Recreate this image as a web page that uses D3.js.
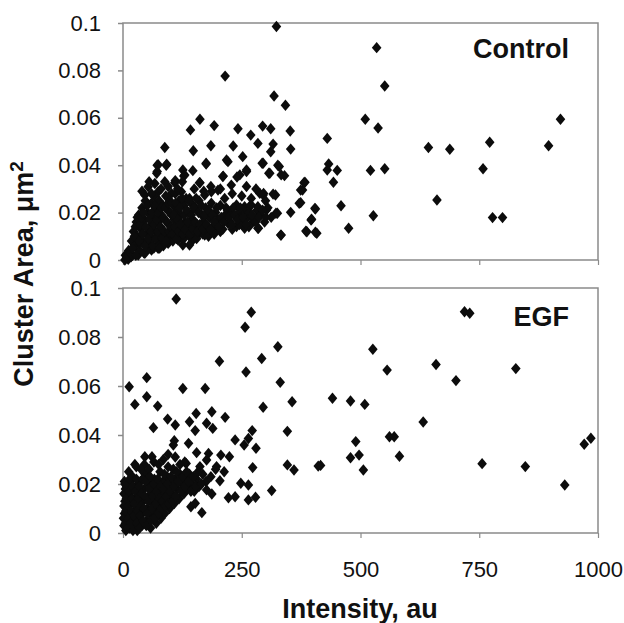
<!DOCTYPE html>
<html>
<head>
<meta charset="utf-8">
<script src="https://cdn.jsdelivr.net/npm/d3@7"></script>
<style>
    body { margin: 0; background: #fff; }
    text { font-family: "Liberation Sans", Arial, sans-serif; fill: #111; }
</style>
</head>
<body>
<div id="chart"></div>
<script>
// values: [intensity (au), cluster area (um2)]
const controlPoints = [
    [534, 0.0896], [551, 0.0734], [510, 0.0594], [537, 0.0557], [430, 0.0513], [643, 0.0475],
    [688, 0.0467], [772, 0.0497], [896, 0.0482], [921, 0.0594], [758, 0.0385], [433, 0.0405],
    [430, 0.038], [451, 0.0378], [521, 0.0378], [551, 0.0385], [443, 0.0328], [383, 0.0328],
    [378, 0.0295], [374, 0.0242], [405, 0.0215], [459, 0.0229], [397, 0.0172], [385, 0.0122],
    [408, 0.0113], [475, 0.0134], [527, 0.0187], [661, 0.0253], [778, 0.0179], [799, 0.0179],
    [323, 0.0985], [215, 0.0776], [318, 0.0692], [342, 0.0653], [162, 0.0594], [142, 0.0549],
    [192, 0.0567], [242, 0.0554], [269, 0.0527], [294, 0.0565], [311, 0.0554], [352, 0.0544],
    [88, 0.0475], [148, 0.0461], [185, 0.0482], [232, 0.0481], [284, 0.0492], [316, 0.0489],
    [353, 0.0468], [218, 0.0422], [252, 0.0436], [293, 0.0408], [311, 0.0457], [329, 0.0394],
    [175, 0.0408], [260, 0.038], [307, 0.0366], [340, 0.0356], [126, 0.038], [128, 0.0354],
    [92, 0.0404], [74, 0.0402], [71, 0.0366], [109, 0.0326], [162, 0.0326], [210, 0.0352],
    [381, 0.0326], [374, 0.0295], [371, 0.0239], [404, 0.0218], [396, 0.0169], [387, 0.0119],
    [405, 0.0117], [353, 0.0201], [333, 0.0105], [285, 0.0134], [322, 0.0197], [321, 0.0274],
    [296, 0.0281],
    [72, 0.040], [91, 0.040], [72, 0.0373], [175, 0.0405], [147, 0.0377], [130, 0.0359],
    [110, 0.0335], [88, 0.033], [67, 0.0323], [53, 0.0309], [161, 0.0326], [211, 0.0354],
    [228, 0.0316], [246, 0.0359], [260, 0.0373], [295, 0.0408], [309, 0.0366], [333, 0.0359],
    [326, 0.040], [221, 0.0415], [46, 0.0274], [74, 0.0288], [102, 0.0281], [123, 0.0288],
    [140, 0.026], [172, 0.0274], [186, 0.0288], [200, 0.0295], [214, 0.026], [288, 0.0281],
    [295, 0.0274], [316, 0.0278], [270, 0.0232], [239, 0.0232], [228, 0.0204], [256, 0.0225],
    [284, 0.0225], [302, 0.0211], [325, 0.0197], [274, 0.0162], [284, 0.0134], [256, 0.0134],
    [239, 0.0141], [221, 0.0155], [200, 0.0134], [186, 0.0119], [172, 0.0105], [158, 0.0105],
    [147, 0.0084], [126, 0.0063], [140, 0.0063], [332, 0.0105], [116, 0.0084], [95, 0.007],
    [74, 0.0049], [60, 0.0042], [46, 0.0028], [32, 0.0021], [17, 0.0014], [11, 0.0003], [4, 0],
    [12, 0.004], [18, 0.008], [22, 0.012], [25, 0.006], [28, 0.016], [30, 0.010], [33, 0.019],
    [35, 0.004], [38, 0.013], [40, 0.022], [42, 0.008], [45, 0.017], [47, 0.025], [50, 0.011],
    [52, 0.020], [55, 0.005], [57, 0.014], [60, 0.024], [62, 0.009], [64, 0.018], [66, 0.027],
    [68, 0.012], [70, 0.021], [72, 0.006], [74, 0.016], [76, 0.025], [78, 0.010], [80, 0.019],
    [82, 0.013], [84, 0.023], [86, 0.008], [88, 0.017], [90, 0.027], [92, 0.011], [94, 0.021],
    [96, 0.015], [98, 0.025], [100, 0.009], [102, 0.019], [104, 0.013], [106, 0.023], [108, 0.017],
    [110, 0.028], [112, 0.011], [114, 0.021], [116, 0.015], [118, 0.025], [120, 0.010], [122, 0.019],
    [125, 0.013], [128, 0.023], [130, 0.016], [133, 0.026], [135, 0.011], [138, 0.020], [140, 0.014],
    [143, 0.024], [146, 0.017], [150, 0.012], [153, 0.022], [156, 0.015], [160, 0.025], [163, 0.013],
    [166, 0.019], [170, 0.016], [174, 0.022], [178, 0.012], [182, 0.018], [186, 0.024], [190, 0.014],
    [195, 0.020], [200, 0.017], [205, 0.023], [210, 0.013], [215, 0.019], [220, 0.021], [226, 0.016],
    [232, 0.022], [238, 0.018], [244, 0.020], [250, 0.016], [256, 0.021], [262, 0.018], [268, 0.023],
    [275, 0.017], [282, 0.021], [290, 0.019], [298, 0.016], [305, 0.022], [312, 0.018],
    [5, 0.002], [8, 0.001], [15, 0.003], [20, 0.002], [27, 0.002], [36, 0.007], [44, 0.003],
    [48, 0.006], [58, 0.008], [65, 0.005], [75, 0.007], [85, 0.006], [95, 0.010], [105, 0.008],
    [115, 0.011], [128, 0.009], [140, 0.010], [155, 0.009], [168, 0.011], [180, 0.010], [192, 0.011],
    [205, 0.012], [230, 0.013], [245, 0.015], [265, 0.014],
    [40, 0.029], [55, 0.033], [60, 0.028], [80, 0.030], [95, 0.031], [115, 0.030], [125, 0.033],
    [150, 0.030], [170, 0.029], [185, 0.031], [205, 0.030], [230, 0.028], [250, 0.027], [270, 0.026],
    [300, 0.025], [280, 0.030], [260, 0.031], [240, 0.035],
    [20, 0.005], [24, 0.010], [26, 0.014], [30, 0.018], [34, 0.008], [36, 0.015], [39, 0.018],
    [41, 0.011], [43, 0.020], [46, 0.006], [48, 0.014], [51, 0.023], [53, 0.009], [56, 0.017],
    [59, 0.012], [61, 0.020], [63, 0.006], [65, 0.015], [67, 0.023], [69, 0.009], [71, 0.017],
    [73, 0.012], [75, 0.020], [77, 0.005], [79, 0.014], [81, 0.022], [83, 0.009], [85, 0.018],
    [87, 0.012], [89, 0.022], [91, 0.008], [93, 0.016], [95, 0.024], [97, 0.012], [99, 0.020],
    [101, 0.014], [103, 0.024], [105, 0.011], [107, 0.019], [109, 0.014], [111, 0.024], [113, 0.009],
    [115, 0.017], [117, 0.012], [119, 0.022], [121, 0.015], [124, 0.026], [126, 0.011], [129, 0.019],
    [131, 0.013], [134, 0.021], [136, 0.016], [139, 0.025], [141, 0.011], [144, 0.019], [147, 0.013],
    [149, 0.022], [152, 0.016], [154, 0.026], [157, 0.012], [159, 0.020], [162, 0.015], [165, 0.023],
    [168, 0.013], [172, 0.019], [176, 0.015], [180, 0.021], [184, 0.013], [188, 0.019], [192, 0.016],
    [197, 0.022], [202, 0.014], [207, 0.018], [212, 0.016], [217, 0.022], [223, 0.018], [229, 0.015],
    [235, 0.019], [241, 0.017], [247, 0.022], [253, 0.018], [259, 0.015], [265, 0.020], [272, 0.019],
    [279, 0.016], [286, 0.018], [294, 0.021], [301, 0.018]
];

const egfPoints = [
    [719, 0.0903], [730, 0.0897], [526, 0.075], [556, 0.0665], [659, 0.0688], [701, 0.0622],
    [827, 0.0671], [441, 0.055], [479, 0.0539], [509, 0.0525], [632, 0.0453], [490, 0.0373],
    [561, 0.0393], [571, 0.0393], [479, 0.0307], [497, 0.0318], [506, 0.0257], [582, 0.0313],
    [416, 0.0276], [756, 0.0283], [847, 0.0271], [930, 0.0196], [971, 0.0362], [985, 0.0387],
    [112, 0.0955], [270, 0.0901], [257, 0.084], [326, 0.076], [292, 0.0712], [203, 0.0701],
    [259, 0.0657], [331, 0.0615], [50, 0.0634], [13, 0.0597], [126, 0.059], [173, 0.059],
    [356, 0.0536], [25, 0.0525], [50, 0.0556], [73, 0.0518], [295, 0.0513], [187, 0.0495],
    [154, 0.0488], [215, 0.0472], [94, 0.0465], [110, 0.0441], [140, 0.0454], [176, 0.0448],
    [189, 0.0427], [64, 0.043], [152, 0.0418], [272, 0.0418], [346, 0.0415], [236, 0.038],
    [264, 0.0386], [108, 0.0377], [106, 0.0359], [138, 0.0366], [255, 0.0359], [280, 0.0346],
    [155, 0.0328], [180, 0.0325], [224, 0.0311], [206, 0.0318], [346, 0.0278], [360, 0.0257],
    [411, 0.0273], [273, 0.0267], [213, 0.025], [197, 0.0271], [176, 0.0298], [133, 0.0284],
    [162, 0.0271], [248, 0.0203], [264, 0.0196], [204, 0.0213], [313, 0.0173], [264, 0.0135],
    [279, 0.0146], [236, 0.0148], [222, 0.0144], [187, 0.0159], [166, 0.0083], [143, 0.0107],
    [176, 0.0176], [46, 0.0311], [61, 0.0311], [25, 0.028], [95, 0.0321], [18, 0.0216],
    [152, 0.0121],
    [2, 0.003], [3, 0.008], [4, 0.013], [5, 0.018], [3, 0.021], [6, 0.001], [8, 0.005], [9, 0.010],
    [10, 0.015], [11, 0.020], [14, 0.002], [15, 0.007], [16, 0.012], [18, 0.017], [20, 0.023],
    [22, 0.004], [24, 0.009], [25, 0.014], [27, 0.019], [30, 0.001], [31, 0.006], [33, 0.011],
    [35, 0.016], [37, 0.021], [40, 0.003], [41, 0.008], [43, 0.013], [45, 0.018], [47, 0.024],
    [50, 0.005], [52, 0.010], [54, 0.015], [56, 0.020], [58, 0.002], [60, 0.007], [62, 0.012],
    [64, 0.017], [66, 0.022], [68, 0.009], [70, 0.004], [72, 0.014], [74, 0.019], [76, 0.011],
    [78, 0.025], [80, 0.006], [82, 0.016], [84, 0.021], [86, 0.012], [88, 0.008], [90, 0.018],
    [93, 0.023], [95, 0.014], [98, 0.010], [100, 0.020], [103, 0.016], [106, 0.026], [108, 0.012],
    [110, 0.022], [114, 0.018], [118, 0.014], [120, 0.024], [124, 0.020], [128, 0.016], [132, 0.022],
    [136, 0.018], [140, 0.024], [145, 0.020], [150, 0.017], [155, 0.022], [160, 0.019], [168, 0.024],
    [175, 0.021], [185, 0.023], [195, 0.026], [12, 0.025], [28, 0.027], [45, 0.028], [65, 0.029],
    [85, 0.030], [110, 0.031], [130, 0.029], [38, 0.026], [75, 0.028], [55, 0.026], [95, 0.027],
    [120, 0.028],
    [1, 0.006], [2, 0.011], [2, 0.016], [4, 0.020], [5, 0.004], [6, 0.009], [7, 0.014], [8, 0.019],
    [10, 0.002], [11, 0.006], [12, 0.011], [13, 0.017], [14, 0.022], [16, 0.004], [17, 0.009],
    [19, 0.014], [20, 0.019], [21, 0.001], [23, 0.007], [24, 0.012], [26, 0.017], [28, 0.022],
    [29, 0.004], [30, 0.009], [32, 0.014], [34, 0.019], [35, 0.002], [36, 0.007], [38, 0.011],
    [39, 0.016], [41, 0.022], [42, 0.005], [44, 0.010], [46, 0.015], [48, 0.021], [49, 0.003],
    [51, 0.008], [53, 0.013], [55, 0.018], [57, 0.023], [59, 0.005], [61, 0.010], [63, 0.015],
    [65, 0.020], [67, 0.006], [69, 0.012], [71, 0.017], [73, 0.022], [75, 0.008], [77, 0.014],
    [79, 0.019], [81, 0.010], [83, 0.013], [85, 0.018], [87, 0.024], [89, 0.011], [91, 0.015],
    [94, 0.020], [96, 0.012], [99, 0.017], [101, 0.023], [104, 0.013], [107, 0.019], [111, 0.015],
    [113, 0.025], [116, 0.021], [122, 0.017], [126, 0.023], [130, 0.019], [134, 0.025], [138, 0.021],
    [143, 0.017], [148, 0.023], [153, 0.019], [158, 0.025], [165, 0.020]
];

const panelNames = ["Control", "EGF"];
const xTicks = [0, 250, 500, 750, 1000];
const yTicks = [0, 0.02, 0.04, 0.06, 0.08, 0.1];

const width = 624, height = 623;
const axisGray = "#8a8a8a";

const svg = d3.select("#chart")
    .append("svg")
    .attr("width", width)
    .attr("height", height);

const x = d3.scaleLinear().domain([0, 1000]).range([123, 598]);

// the two stacked panels
const panels = [
    {name: panelNames[0], data: controlPoints, top: 23, bottom: 260, labelY: 58, xLabels: false},
    {name: panelNames[1], data: egfPoints, top: 288, bottom: 533, labelY: 326, xLabels: true}
];

// diamond marker, a bit taller than wide like the original
const diamond = "M0,-5.7L4.8,0L0,5.7L-4.8,0Z";

panels.forEach(function (p) {
    const y = d3.scaleLinear().domain([0, 0.1]).range([p.bottom, p.top]);
    const g = svg.append("g");

    // frame
    g.append("rect")
        .attr("x", x(0))
        .attr("y", y(0.1))
        .attr("width", x(1000) - x(0))
        .attr("height", y(0) - y(0.1))
        .attr("fill", "none")
        .attr("stroke", axisGray)
        .attr("stroke-width", 1.5);

    // y axis
    const yAxis = g.append("g")
        .attr("transform", `translate(${x(0)},0)`)
        .call(d3.axisLeft(y).tickValues(yTicks).tickSize(5).tickPadding(17).tickFormat(d => String(d)));
    yAxis.select(".domain").remove();
    yAxis.selectAll("line").attr("stroke", axisGray).attr("stroke-width", 1.5);
    yAxis.selectAll("text")
        .attr("font-size", 22)
        .attr("fill", "#111")
        .style("font-family", "'Liberation Sans', Arial, sans-serif");

    // x axis
    const xAxis = g.append("g")
        .attr("transform", `translate(0,${y(0)})`)
        .call(d3.axisBottom(x).tickValues(xTicks).tickSize(5).tickPadding(23)
            .tickFormat(p.xLabels ? (d => String(d)) : () => ""));
    xAxis.select(".domain").remove();
    xAxis.selectAll("line").attr("stroke", axisGray).attr("stroke-width", 1.2);
    xAxis.selectAll("text")
        .attr("font-size", 22)
        .attr("fill", "#111")
        .style("font-family", "'Liberation Sans', Arial, sans-serif");

    // points
    g.append("g")
        .selectAll("path")
        .data(p.data)
        .join("path")
        .attr("d", diamond)
        .attr("transform", d => `translate(${x(d[0])},${y(d[1])})`)
        .attr("fill", "#0c0c0c");

    // panel label
    g.append("text")
        .attr("x", 569)
        .attr("y", p.labelY)
        .attr("text-anchor", "end")
        .attr("font-size", 27)
        .attr("font-weight", "bold")
        .text(p.name);
});

// axis titles
svg.append("text")
    .attr("x", 360)
    .attr("y", 618)
    .attr("text-anchor", "middle")
    .attr("font-size", 27)
    .attr("font-weight", "bold")
    .text("Intensity, au");

const yTitle = svg.append("text")
    .attr("transform", "translate(33,274) rotate(-90)")
    .attr("text-anchor", "middle")
    .attr("font-size", 27)
    .attr("font-weight", "bold");
yTitle.append("tspan").text("Cluster Area, \u03bcm");
yTitle.append("tspan").attr("dy", -10).attr("font-size", 19).text("2");
</script>
</body>
</html>
